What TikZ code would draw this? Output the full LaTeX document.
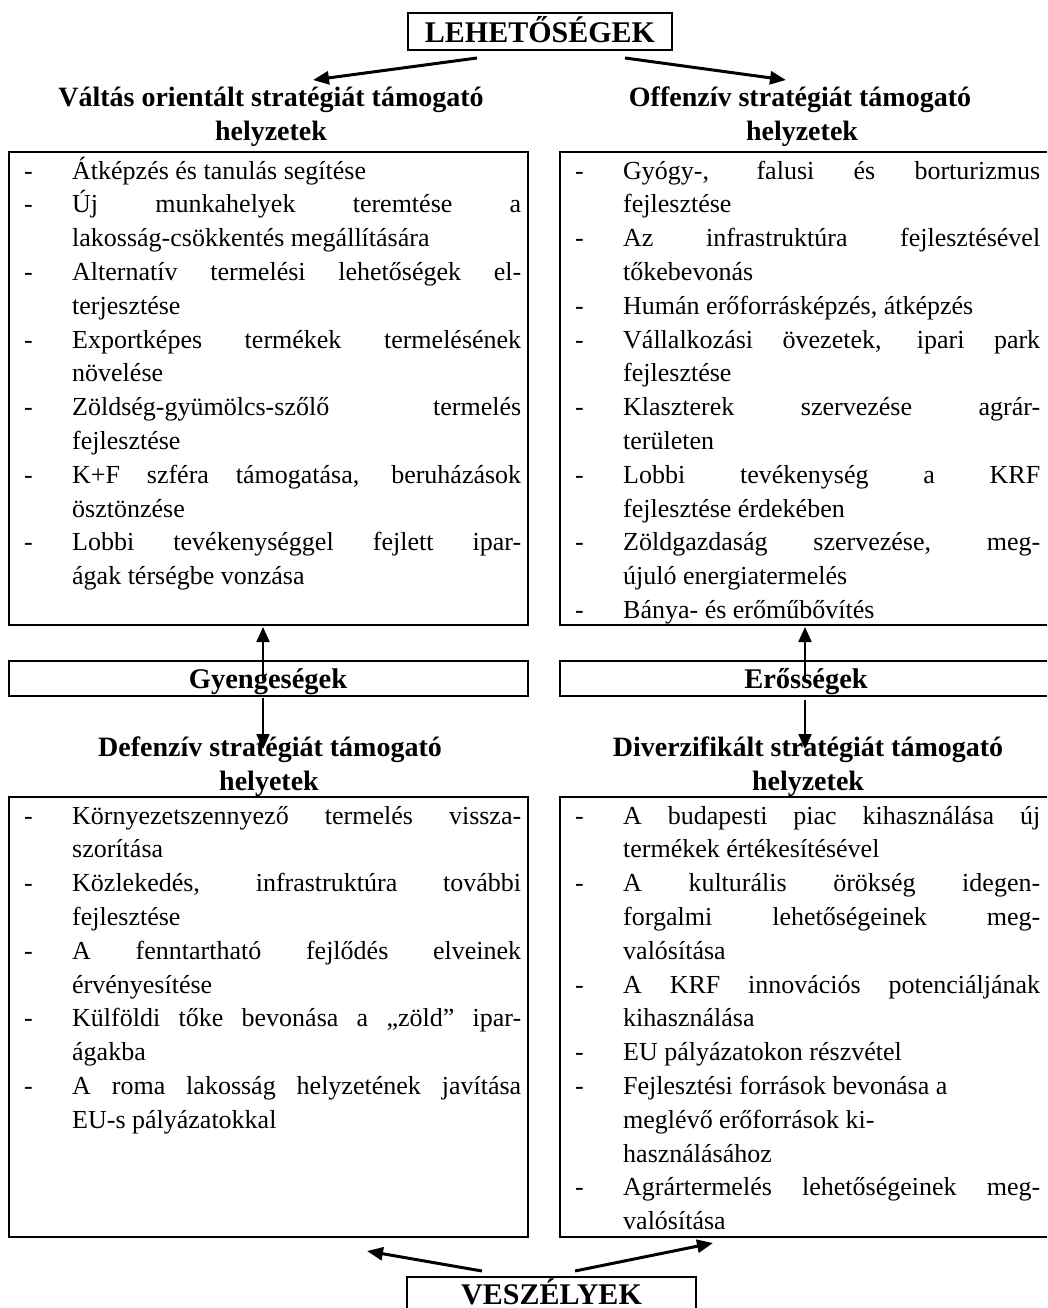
\documentclass[tikz,border=0pt]{standalone}
\usepackage{fontspec}
\setmainfont{Liberation Serif}
\usetikzlibrary{arrows.meta}
\newlength\indw
\setlength\indw{48pt}
\newcommand\JD[1]{\hbox to \hsize{\hbox to \indw{-\hss}#1}}
\newcommand\ND[1]{\hbox to \hsize{\hbox to \indw{-\hss}#1\hfil}}
\newcommand\JC[1]{\hbox to \hsize{\hskip\indw #1}}
\newcommand\NC[1]{\hbox to \hsize{\hskip\indw #1\hfil}}
\newcommand\boxtext[2]{\vtop{\hsize=#1\fontsize{26pt}{33.8pt}\selectfont\baselineskip=33.8pt\lineskiplimit=-50pt\lineskip=0pt #2}}
\tikzset{
  frame/.style={draw=none,inner sep=0pt,outer sep=0pt},
  fl/.style={line width=2.4pt,line join=miter},
  ttl/.style={inner sep=0pt,anchor=base,font=\bfseries\fontsize{28pt}{30pt}\selectfont},
  lbl/.style={inner sep=0pt,anchor=base,font=\bfseries\fontsize{28.5pt}{30pt}\selectfont},
  captxt/.style={inner sep=0pt,anchor=base,font=\bfseries\fontsize{30pt}{34pt}\selectfont},
  btxt/.style={inner sep=0pt,anchor=base west},
  bigarr/.style={line width=3pt,-{Triangle[length=16pt,width=13pt]}},
  varr/.style={line width=2pt,-{Triangle[length=15pt,width=13pt]}}
}
\begin{document}
\begin{tikzpicture}[x=1pt,y=-1pt]
\useasboundingbox (0,0) rectangle (1047,1308);
% frames (as invisible nodes, drawn by their anchors)
\node[frame,minimum width=264pt,minimum height=37pt] (leh) at (540,31.5) {};
\node[frame,minimum width=519pt,minimum height=473pt] (tl) at (268.5,388.5) {};
\node[frame,minimum width=487pt,minimum height=473pt] (tr) at (803.5,388.5) {};
\node[frame,minimum width=519pt,minimum height=35pt] (gy) at (268.5,678.5) {};
\node[frame,minimum width=487pt,minimum height=35pt] (er) at (803.5,678.5) {};
\node[frame,minimum width=519pt,minimum height=440pt] (bl) at (268.5,1017) {};
\node[frame,minimum width=487pt,minimum height=440pt] (br) at (803.5,1017) {};
\node[frame,minimum width=289pt,minimum height=31pt] (ves) at (551.5,1292.5) {};
\draw[fl] (leh.north west) rectangle (leh.south east);
\draw[fl] (tl.north west) rectangle (tl.south east);
\draw[fl] (tr.north east) -- (tr.north west) -- (tr.south west) -- (tr.south east);
\draw[fl] (gy.north west) rectangle (gy.south east);
\draw[fl] (er.north east) -- (er.north west) -- (er.south west) -- (er.south east);
\draw[fl] (bl.north west) rectangle (bl.south east);
\draw[fl] (br.north east) -- (br.north west) -- (br.south west) -- (br.south east);
\draw[fl] (ves.south west) -- (ves.north west) -- (ves.north east) -- (ves.south east);
% captions
\node[captxt] (lehT) at (540,43) {LEHETŐSÉGEK};
\node[captxt] (vesT) at (551.5,1304) {VESZÉLYEK};
\node[lbl] (gyT) at (268,688) {Gyengeségek};
\node[lbl] (erT) at (806,688) {Erősségek};
\node[ttl] (tlh1) at (271,107) {Váltás orientált stratégiát támogató};
\node[ttl] (tlh2) at (271,141) {helyzetek};
\node[ttl] (trh1) at (800,107) {Offenzív stratégiát támogató};
\node[ttl] (trh2) at (802,141) {helyzetek};
\node[ttl] (blh1) at (270,756) {Defenzív stratégiát támogató};
\node[ttl] (blh2) at (269,790) {helyetek};
\node[ttl] (brh1) at (808,756) {Diverzifikált stratégiát támogató};
\node[ttl] (brh2) at (808,790) {helyzetek};
% box texts
\node[btxt] (tlt) at (24,179) {\boxtext{497pt}{%
\ND{Átképzés és tanulás segítése}
\JD{Új munkahelyek teremtése a}
\NC{lakosság-csökkentés megállítására}
\JD{Alternatív termelési lehetőségek el-}
\NC{terjesztése}
\JD{Exportképes termékek termelésének}
\NC{növelése}
\JD{Zöldség-gyümölcs-szőlő termelés}
\NC{fejlesztése}
\JD{K+F szféra támogatása, beruházások}
\NC{ösztönzése}
\JD{Lobbi tevékenységgel fejlett ipar-}
\NC{ágak térségbe vonzása}}};
\node[btxt] (trt) at (575,179) {\boxtext{465pt}{%
\JD{Gyógy-, falusi és borturizmus}
\NC{fejlesztése}
\JD{Az infrastruktúra fejlesztésével}
\NC{tőkebevonás}
\ND{Humán erőforrásképzés, átképzés}
\JD{Vállalkozási övezetek, ipari park}
\NC{fejlesztése}
\JD{Klaszterek szervezése agrár-}
\NC{területen}
\JD{Lobbi tevékenység a KRF}
\NC{fejlesztése érdekében}
\JD{Zöldgazdaság szervezése, meg-}
\NC{újuló energiatermelés}
\ND{Bánya- és erőműbővítés}}};
\node[btxt] (blt) at (24,824) {\boxtext{497pt}{%
\JD{Környezetszennyező termelés vissza-}
\NC{szorítása}
\JD{Közlekedés, infrastruktúra további}
\NC{fejlesztése}
\JD{A fenntartható fejlődés elveinek}
\NC{érvényesítése}
\JD{Külföldi tőke bevonása a „zöld” ipar-}
\NC{ágakba}
\JD{A roma lakosság helyzetének javítása}
\NC{EU-s pályázatokkal}}};
\node[btxt] (brt) at (575,824) {\boxtext{465pt}{%
\JD{A budapesti piac kihasználása új}
\NC{termékek értékesítésével}
\JD{A kulturális örökség idegen-}
\JC{forgalmi lehetőségeinek meg-}
\NC{valósítása}
\JD{A KRF innovációs potenciáljának}
\NC{kihasználása}
\ND{EU pályázatokon részvétel}
\ND{Fejlesztési források bevonása a}
\NC{meglévő erőforrások ki-}
\NC{használásához}
\JD{Agrártermelés lehetőségeinek meg-}
\NC{valósítása}}};
% arrow end points
\coordinate (a1s) at (477,58);  \coordinate (a1e) at (313,80);
\coordinate (a2s) at (625,58);  \coordinate (a2e) at (786,80);
\coordinate (v1a) at (263,680); \coordinate (v1b) at (263,627);
\coordinate (v1c) at (263,698); \coordinate (v1d) at (263,749);
\coordinate (v2a) at (805,682); \coordinate (v2b) at (805,627);
\coordinate (v2c) at (805,700); \coordinate (v2d) at (805,749);
\coordinate (b1s) at (482,1271); \coordinate (b1e) at (367,1251);
\coordinate (b2s) at (575,1271); \coordinate (b2e) at (713,1243);
\draw[bigarr] (a1s) -- (a1e);
\draw[bigarr] (a2s) -- (a2e);
\draw[varr] (v1a) -- (v1b);
\draw[varr] (v1c) -- (v1d);
\draw[varr] (v2a) -- (v2b);
\draw[varr] (v2c) -- (v2d);
\draw[bigarr] (b1s) -- (b1e);
\draw[bigarr] (b2s) -- (b2e);
\end{tikzpicture}
\end{document}
